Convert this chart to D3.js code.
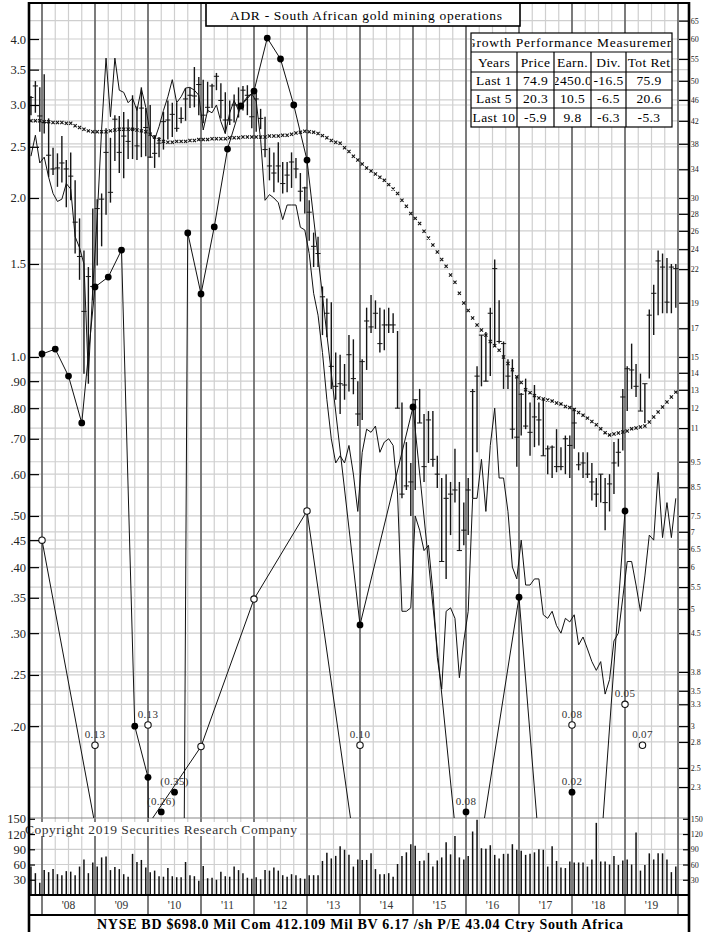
<!DOCTYPE html>
<html><head><meta charset="utf-8">
<script src="https://cdn.jsdelivr.net/npm/d3@7"></script>
<style>
body{margin:0;background:#fff;}
svg{display:block;font-family:"Liberation Serif","Times New Roman",serif;}
</style></head><body>
<svg id="c" width="704" height="932"></svg>
<script>
// ---------------- DATA ----------------
const firstBar = {year: 2007, month: 10};   // first monthly bar: Oct 2007
const priceHigh = [
3.12,3.33,3.24,3.43,2.83,2.49,2.43,2.62,2.36,2.44,
2.16,1.83,1.59,1.48,1.91,1.99,2.04,2.71,2.60,2.87,
2.86,2.91,2.82,3.13,2.98,3.24,2.96,3.00,2.63,2.61,
2.91,3.06,3.03,3.03,2.97,3.23,3.23,3.54,3.39,3.35,
3.32,3.29,3.45,3.30,3.17,3.06,3.14,3.24,3.26,3.27,
3.16,3.16,2.95,2.85,2.49,2.44,2.55,2.34,2.34,2.44,
2.38,2.23,2.10,1.98,1.72,1.69,1.36,1.29,1.27,1.02,
1.01,0.97,1.10,1.08,0.90,0.99,1.24,1.31,1.28,1.24,
1.23,1.24,1.21,1.12,0.82,0.69,0.63,0.83,0.87,0.78,
0.79,0.79,0.65,0.59,0.60,0.58,0.67,0.58,0.53,0.59,
0.87,0.96,1.10,1.115,1.24,1.53,1.28,1.07,0.99,0.99,
0.92,0.855,0.91,0.82,0.885,0.82,0.83,0.68,0.68,0.73,
0.675,0.71,0.71,0.80,0.66,0.66,0.66,0.63,0.59,0.60,
0.59,0.60,0.69,0.70,0.87,0.96,1.06,0.97,0.93,0.89,
1.23,1.37,1.59,1.57,1.54,1.50,1.50];
const priceLow = [
2.87,2.90,2.67,2.65,2.19,2.21,2.10,2.14,1.92,1.98,
1.57,1.40,0.93,0.89,1.28,1.49,1.62,1.86,1.96,2.35,
2.23,2.18,2.37,2.37,2.36,2.39,2.40,2.38,2.28,2.39,
2.47,2.58,2.61,2.67,2.77,2.80,2.96,2.97,2.87,2.77,
2.90,2.96,3.20,2.83,2.65,2.75,2.78,2.84,2.93,2.87,
2.71,2.67,2.70,2.39,2.16,2.05,2.14,2.04,2.05,2.09,
2.18,1.97,1.87,1.66,1.48,1.48,1.10,1.09,0.87,0.83,
0.78,0.83,0.86,0.85,0.74,0.76,0.945,1.11,1.13,1.02,
1.03,1.11,1.11,0.80,0.54,0.56,0.50,0.56,0.75,0.58,
0.63,0.62,0.565,0.41,0.38,0.46,0.53,0.43,0.44,0.46,
0.54,0.66,0.88,0.90,0.92,1.045,1.06,0.87,0.87,0.70,
0.62,0.71,0.73,0.65,0.675,0.68,0.65,0.60,0.59,0.605,
0.61,0.60,0.59,0.67,0.61,0.59,0.59,0.535,0.52,0.53,
0.47,0.51,0.55,0.62,0.665,0.79,0.87,0.84,0.79,0.75,
0.91,1.10,1.20,1.21,1.21,1.21,1.24];
const priceClose = [
3.10,3.26,2.86,2.78,2.41,2.27,2.28,2.33,2.27,2.20,
1.80,1.55,1.22,1.42,1.36,1.91,1.99,2.44,2.05,2.82,
2.44,2.62,2.56,2.70,2.51,2.96,2.72,2.39,2.43,2.54,
2.79,2.81,2.88,2.71,2.83,3.08,3.13,3.12,3.28,2.87,
2.97,3.26,3.40,3.06,2.81,2.81,3.00,3.00,3.20,3.13,
2.85,3.08,2.83,2.47,2.30,2.23,2.30,2.13,2.21,2.34,
2.27,2.06,2.09,1.88,1.62,1.57,1.30,1.21,0.96,0.88,
0.89,0.885,1.01,0.91,0.78,0.98,1.17,1.14,1.21,1.06,
1.15,1.15,1.15,0.80,0.55,0.57,0.58,0.83,0.75,0.62,
0.76,0.64,0.60,0.41,0.54,0.55,0.56,0.43,0.47,0.56,
0.86,0.92,1.10,0.90,1.21,1.47,1.07,1.06,0.92,0.73,
0.705,0.85,0.74,0.72,0.77,0.76,0.65,0.67,0.675,0.62,
0.62,0.70,0.68,0.75,0.625,0.63,0.60,0.58,0.55,0.60,
0.53,0.575,0.63,0.66,0.84,0.95,0.945,0.88,0.79,0.89,
1.20,1.32,1.52,1.48,1.27,1.48,1.47];
const movingAvg = [
2.80,2.80,2.80,2.79,2.79,2.78,2.78,2.78,2.77,2.77,
2.74,2.72,2.70,2.68,2.67,2.67,2.67,2.67,2.68,2.69,
2.70,2.70,2.70,2.70,2.69,2.68,2.67,2.64,2.61,2.58,
2.56,2.55,2.55,2.56,2.56,2.56,2.57,2.57,2.58,2.58,
2.58,2.59,2.59,2.59,2.59,2.60,2.60,2.60,2.61,2.61,
2.61,2.61,2.61,2.61,2.62,2.62,2.62,2.63,2.63,2.64,
2.655,2.665,2.675,2.67,2.665,2.65,2.625,2.60,2.57,2.55,
2.54,2.49,2.45,2.40,2.36,2.32,2.28,2.25,2.22,2.19,
2.16,2.12,2.08,2.04,1.98,1.93,1.87,1.83,1.79,1.73,
1.68,1.63,1.58,1.53,1.485,1.43,1.385,1.32,1.265,1.225,
1.185,1.15,1.125,1.10,1.07,1.05,1.03,1.00,0.972,0.946,
0.917,0.895,0.867,0.856,0.845,0.836,0.833,0.829,0.825,0.818,
0.815,0.806,0.802,0.795,0.785,0.776,0.766,0.755,0.744,0.731,
0.719,0.712,0.715,0.718,0.721,0.724,0.731,0.734,0.737,0.740,
0.753,0.770,0.787,0.804,0.822,0.840,0.858];
const relStrength = [
2.40,2.63,2.33,2.39,2.19,2.04,1.97,1.99,2.13,2.08,
1.69,1.61,1.50,0.92,1.35,1.84,2.70,3.68,2.85,3.68,
3.20,3.17,3.03,3.09,2.93,3.22,2.97,2.65,2.58,2.73,
2.93,3.11,3.35,3.03,3.11,3.23,3.24,3.20,3.13,2.69,
2.93,2.90,3.00,2.79,2.65,2.90,3.06,2.93,3.03,3.11,
3.15,3.05,2.58,1.98,2.03,2.00,1.96,1.82,1.94,1.94,
1.94,1.76,1.74,1.57,1.32,1.20,1.02,0.83,0.70,0.63,
0.65,0.63,0.68,0.60,0.51,0.66,0.73,0.72,0.74,0.66,
0.69,0.70,0.68,0.55,0.33,0.33,0.335,0.50,0.47,0.43,
0.44,0.36,0.27,0.235,0.33,0.335,0.32,0.247,0.29,0.33,
0.54,0.54,0.64,0.51,0.68,0.80,0.59,0.59,0.51,0.40,
0.38,0.45,0.37,0.37,0.38,0.38,0.325,0.32,0.33,0.31,
0.30,0.32,0.315,0.325,0.285,0.295,0.28,0.265,0.255,0.265,
0.23,0.245,0.29,0.30,0.35,0.41,0.41,0.37,0.33,0.385,
0.46,0.45,0.605,0.455,0.53,0.455,0.54];
const volume = [
56,43,24,49,45,51,41,39,47,46,
39,56,70,43,64,56,74,76,49,55,
51,41,36,81,65,69,54,45,48,37,
36,53,37,35,35,65,39,37,28,57,
33,34,30,46,37,36,56,49,43,34,
32,35,31,49,48,54,48,39,36,41,
39,33,32,39,39,39,67,83,72,77,
96,89,79,56,70,69,69,82,51,41,
41,43,36,61,77,84,100,97,67,68,
83,56,68,74,104,80,116,74,70,77,
125,148,92,91,98,79,72,81,81,100,
89,87,79,81,84,90,89,56,96,67,
54,53,66,64,64,64,56,70,142,66,
66,60,77,59,68,70,60,123,48,59,
82,70,82,82,70,45,56];
// earnings (plotted line with filled dots)
const epsDates  = [2008,2008.25,2008.5,2008.75,2009,2009.25,2009.5,2009.75,2010,2010.25,2010.5,2010.75,
                   2011,2011.25,2011.5,2011.75,2012,2012.25,2012.5,2012.75,2013,2014,2015,2016,2017,2018,2019];
const epsValues = [1.013,1.035,0.92,0.75,1.357,1.417,1.594,0.20,0.16,-0.26,-0.35,1.717,
                   1.316,1.763,2.476,2.987,3.188,4.017,3.666,3.0,2.36,0.311,0.804,0.08,0.351,0.02,0.511];
// dividends (plotted line with open circles)
const divDates  = [2008,2009,2010,2011,2012,2013,2014,2018,2019,2019.33];
const divValues = [0.45,0.13,0.13,0.183,0.348,0.511,0.10,0.08,0.05,0.07];
// off-scale values shown as labelled markers near the bottom
const epsNoteDates  = [2010.25,2010.5,2016,2018];
const epsNoteLabels = ["(0.26)","(0.35)","0.08","0.02"];
const epsNoteShownAt = [0.1376,0.150,0.1376,0.150];
const divNoteDates  = [2009,2010,2014,2018,2019,2019.33];
const divNoteLabels = ["0.13","0.13","0.10","0.08","0.05","0.07"];
const divNoteShownAt = [0.184,0.201,0.184,0.201,0.220,0.184];
// axes
const leftTicks = [4.0,3.5,3.0,2.5,2.0,1.5,1.0,0.9,0.8,0.7,0.6,0.5,0.45,0.4,0.35,0.3,0.25,0.2];
const leftTickLabels = ["4.0","3.5","3.0","2.5","2.0","1.5","1.0",".90",".80",".70",".60",".50",".45",".40",".35",".30",".25",".20"];
const rightFactor = 15;
const rightTicks = [65,60,55,50,46,42,38,34,30,28,26,24,22,19,17,15,14,13,12,11,9.5,8.5,7.5,7,6.5,6,5.5,5,4.5,3.8,3.5,3.3,3,2.8,2.5,2.3];
const volTicks = [150,120,90,60,30];
const yearLabels = ["'08","'09","'10","'11","'12","'13","'14","'15","'16","'17","'18","'19"];
const titleText = "ADR - South African gold mining operations";
const tableTitle = "Growth Performance Measurement";
const tableHeader = ["Years","Price","Earn.","Div.","Tot Ret"];
const tableRows = [["Last 1","74.9","2450.0","-16.5","75.9"],
                   ["Last 5","20.3","10.5","-6.5","20.6"],
                   ["Last 10","-5.9","9.8","-6.3","-5.3"]];
const copyrightText = "Copyright 2019 Securities Research Company";
const footerText = "NYSE BD   $698.0 Mil Com 412.109 Mil BV 6.17 /sh  P/E 43.04 Ctry South Africa";

// ---------------- LAYOUT ----------------
const W=704, X0=29, X1=689, Y0=3, Y1=818, VB=895, FT=915;
const x = d3.scaleLinear().domain([2007.7547, 2020.2075]).range([X0, X1]);
const y = d3.scaleLog().domain([0.1340, 4.680]).range([Y1, Y0]);
const yR = d3.scaleLog().domain([0.1340*rightFactor, 4.680*rightFactor]).range([Y1, Y0]);
const yv = d3.scaleLinear().domain([0, 150]).range([VB, 818.8]);
const monthDate = i => firstBar.year + (firstBar.month - 1 + i + 0.5) / 12;
const epsFloor = 0.0001;
const yE = v => v > 0 ? y(v) : y(epsFloor);

const svg = d3.select('#c');
svg.append('rect').attr('width',W).attr('height',932).attr('fill','#fff');
const defs = svg.append('defs');
defs.append('clipPath').attr('id','mainClip').append('rect')
  .attr('x',X0).attr('y',Y0).attr('width',X1-X0).attr('height',Y1-Y0);

// ---------- grid ----------
const grid = svg.append('g');
const gridVals = Array.from(new Set(leftTicks.concat(rightTicks.map(v=>v/rightFactor))));
grid.selectAll('line.h').data(gridVals.filter(v=>y(v)>Y0+1 && y(v)<Y1-1)).join('line')
  .attr('x1',X0).attr('x2',X1).attr('y1',d=>y(d)).attr('y2',d=>y(d))
  .attr('stroke','#cfcfcf').attr('stroke-width',1.2);
grid.selectAll('line.vh').data([30,60,90,120]).join('line')
  .attr('x1',X0).attr('x2',X1).attr('y1',d=>yv(d)).attr('y2',d=>yv(d))
  .attr('stroke','#cfcfcf').attr('stroke-width',1.2);
const quarters = d3.range(0,50).map(k=>2007.75+k*0.25);
grid.selectAll('line.q').data(quarters.filter(q=>q%1!==0)).join('line')
  .attr('x1',d=>x(d)).attr('x2',d=>x(d)).attr('y1',Y0).attr('y2',VB)
  .attr('stroke','#cfcfcf').attr('stroke-width',1.2);
const years = d3.range(2008,2021);
grid.selectAll('line.yr').data(years).join('line')
  .attr('x1',d=>x(d)).attr('x2',d=>x(d)).attr('y1',Y0).attr('y2',FT)
  .attr('stroke','#6e6e6e').attr('stroke-width',1.8);
svg.append('line').attr('x1',X0).attr('x2',X1).attr('y1',Y1).attr('y2',Y1)
  .attr('stroke','#888').attr('stroke-width',1.2);

// ---------- volume ----------
svg.append('g').selectAll('line').data(volume).join('line')
  .attr('x1',(d,i)=>x(monthDate(i))).attr('x2',(d,i)=>x(monthDate(i)))
  .attr('y1',yv(0)).attr('y2',d=>yv(d))
  .attr('stroke','#111').attr('stroke-width',1.5);

// ---------- main panel ----------
const main = svg.append('g').attr('clip-path','url(#mainClip)');
const bars = main.append('g');
priceHigh.forEach((h,i)=>{
  const xi = x(monthDate(i));
  bars.append('line').attr('x1',xi).attr('x2',xi).attr('y1',y(h)).attr('y2',y(priceLow[i]))
    .attr('stroke','#151515').attr('stroke-width',1.4);
  bars.append('line').attr('x1',xi-2.6).attr('x2',xi+2.6).attr('y1',y(priceClose[i])).attr('y2',y(priceClose[i]))
    .attr('stroke','#151515').attr('stroke-width',1);
});
// moving average x-markers
main.append('g').selectAll('path').data(movingAvg).join('path')
  .attr('transform',(d,i)=>`translate(${x(monthDate(i))},${y(d)})`)
  .attr('d','M-1.6,-1.6L1.6,1.6M-1.6,1.6L1.6,-1.6')
  .attr('stroke','#111').attr('stroke-width',1.1);
// relative strength line
main.append('path').datum(relStrength)
  .attr('d', d3.line().x((d,i)=>x(monthDate(i))).y(d=>y(d)))
  .attr('fill','none').attr('stroke','#111').attr('stroke-width',1);
// earnings line
const epsPts = epsDates.map((d,i)=>({d, v:epsValues[i]}));
main.append('path').datum(epsPts)
  .attr('d', d3.line().x(p=>x(p.d)).y(p=>yE(p.v)))
  .attr('fill','none').attr('stroke','#111').attr('stroke-width',1);
main.append('g').selectAll('circle').data(epsPts.filter(p=>p.v>=y.domain()[0])).join('circle')
  .attr('cx',p=>x(p.d)).attr('cy',p=>y(p.v)).attr('r',3.4).attr('fill','#000');
// dividend line
const divPts = divDates.map((d,i)=>({d, v:divValues[i]}));
main.append('path').datum(divPts)
  .attr('d', d3.line().x(p=>x(p.d)).y(p=>y(p.v)))
  .attr('fill','none').attr('stroke','#111').attr('stroke-width',1);
main.append('g').selectAll('circle').data(divPts.filter(p=>p.v>=y.domain()[0])).join('circle')
  .attr('cx',p=>x(p.d)).attr('cy',p=>y(p.v)).attr('r',3.2).attr('fill','#fff').attr('stroke','#111').attr('stroke-width',1.1);
// off-scale labelled markers
const notes = main.append('g');
divNoteDates.forEach((d,i)=>{
  const cx=x(d), cy=y(divNoteShownAt[i]);
  notes.append('circle').attr('cx',cx).attr('cy',cy).attr('r',3.2).attr('fill','#fff').attr('stroke','#111').attr('stroke-width',1.1);
  notes.append('text').attr('x',cx).attr('y',cy-7).attr('text-anchor','middle')
    .attr('font-size',11).attr('fill','#333').attr('letter-spacing',0.3).text(divNoteLabels[i]);
});
epsNoteDates.forEach((d,i)=>{
  const cx=x(d), cy=y(epsNoteShownAt[i]);
  notes.append('circle').attr('cx',cx).attr('cy',cy).attr('r',3.4).attr('fill','#000');
  notes.append('text').attr('x',cx).attr('y',cy-7).attr('text-anchor','middle')
    .attr('font-size',11).attr('fill','#333').attr('letter-spacing',0.3).text(epsNoteLabels[i]);
});

// ---------- title box ----------
svg.append('rect').attr('x',206).attr('y',3).attr('width',314).attr('height',23)
  .attr('fill','#fff').attr('stroke','#000').attr('stroke-width',1.6);
svg.append('text').attr('x',230).attr('y',19.5).attr('font-size',13.5)
  .attr('textLength',272).attr('lengthAdjust','spacing').text(titleText);

// ---------- performance table ----------
const colX=[471,517,554,591,626,672], rowY=[33,52,72,90,108,127];
const tg = svg.append('g');
tg.append('rect').attr('x',colX[0]).attr('y',rowY[0]).attr('width',colX[5]-colX[0]).attr('height',rowY[5]-rowY[0])
  .attr('fill','#fff');
defs.append('clipPath').attr('id','tblTitle').append('rect')
  .attr('x',colX[0]+1).attr('y',rowY[0]).attr('width',colX[5]-colX[0]-2).attr('height',rowY[1]-rowY[0]);
tg.append('text').attr('clip-path','url(#tblTitle)').attr('x',466).attr('y',rowY[1]-5)
  .attr('font-size',13.5).attr('textLength',212).attr('lengthAdjust','spacing').text(tableTitle);
const allRows=[tableHeader].concat(tableRows);
allRows.forEach((row,r)=>{
  row.forEach((cell,c)=>{
    const id=`cell${r}_${c}`;
    defs.append('clipPath').attr('id',id).append('rect')
      .attr('x',colX[c]+1).attr('y',rowY[r+1]).attr('width',colX[c+1]-colX[c]-2).attr('height',rowY[r+2]-rowY[r+1]);
    tg.append('text').attr('clip-path',`url(#${id})`)
      .attr('x',(colX[c]+colX[c+1])/2).attr('y',rowY[r+2]-5).attr('text-anchor','middle')
      .attr('font-size',13.5).attr('letter-spacing',0.4).text(cell);
  });
});
tg.append('rect').attr('x',colX[0]).attr('y',rowY[0]).attr('width',colX[5]-colX[0]).attr('height',rowY[5]-rowY[0])
  .attr('fill','none').attr('stroke','#000').attr('stroke-width',1.2);
rowY.slice(1,5).forEach(ry=>tg.append('line').attr('x1',colX[0]).attr('x2',colX[5]).attr('y1',ry).attr('y2',ry)
  .attr('stroke','#000').attr('stroke-width',1.2));
colX.slice(1,5).forEach(cx=>tg.append('line').attr('x1',cx).attr('x2',cx).attr('y1',rowY[1]).attr('y2',rowY[5])
  .attr('stroke','#000').attr('stroke-width',1.2));

// ---------- copyright ----------
svg.append('rect').attr('x',27).attr('y',822).attr('width',273).attr('height',14).attr('fill','#fff');
svg.append('text').attr('x',25).attr('y',834).attr('font-size',13.5).attr('fill','#333')
  .attr('textLength',272).attr('lengthAdjust','spacing').text(copyrightText);

// ---------- axes ----------
const styleAxis = (g, size) => {
  g.select('.domain').remove();
  g.selectAll('.tick line').attr('stroke','#000').attr('stroke-width',1.2);
  g.selectAll('.tick text').attr('font-family','"Liberation Serif","Times New Roman",serif')
    .attr('font-size',size).attr('fill','#222');
};
svg.append('g').attr('transform',`translate(${X0},0)`)
  .call(d3.axisLeft(y).tickValues(leftTicks).tickFormat((d,i)=>leftTickLabels[i]).tickSizeInner(-10).tickSizeOuter(0).tickPadding(3))
  .call(styleAxis, 12.5);
// right-hand labels kept small so they stay inside the 704px page
svg.append('g').attr('transform',`translate(${X1},0)`)
  .call(d3.axisRight(yR).tickValues(rightTicks).tickFormat(d=>String(d)).tickSizeInner(-10).tickSizeOuter(0).tickPadding(1.8))
  .call(styleAxis, 8);
svg.append('g').attr('transform',`translate(${X0},0)`)
  .call(d3.axisLeft(yv).tickValues(volTicks).tickFormat(d=>String(d)).tickSizeInner(-6).tickSizeOuter(0).tickPadding(3))
  .call(styleAxis, 12.5);
svg.append('g').attr('transform',`translate(${X1},0)`)
  .call(d3.axisRight(yv).tickValues(volTicks).tickFormat(d=>String(d)).tickSizeInner(-6).tickSizeOuter(0).tickPadding(1.8))
  .call(styleAxis, 8);
svg.append('g').selectAll('text').data(yearLabels).join('text')
  .attr('x',(d,i)=>x(2008+i+0.5)).attr('y',909).attr('text-anchor','middle')
  .attr('font-size',11.5).attr('fill','#333').text(d=>d);

// ---------- frame ----------
svg.append('line').attr('x1',X0).attr('x2',X1).attr('y1',VB).attr('y2',VB).attr('stroke','#000').attr('stroke-width',2.2);
svg.append('line').attr('x1',X0).attr('x2',X1).attr('y1',FT).attr('y2',FT).attr('stroke','#000').attr('stroke-width',2.2);
svg.append('line').attr('x1',X0).attr('x2',X1).attr('y1',Y0).attr('y2',Y0).attr('stroke','#000').attr('stroke-width',2.2);
svg.append('line').attr('x1',X0).attr('x2',X0).attr('y1',Y0-1).attr('y2',932).attr('stroke','#000').attr('stroke-width',2.6);
svg.append('line').attr('x1',X1).attr('x2',X1).attr('y1',Y0-1).attr('y2',932).attr('stroke','#000').attr('stroke-width',2.6);
svg.append('text').attr('x',97).attr('y',929).attr('font-size',14).attr('font-weight','bold')
  .attr('textLength',526).attr('lengthAdjust','spacing').text(footerText);
</script>
</body></html>
